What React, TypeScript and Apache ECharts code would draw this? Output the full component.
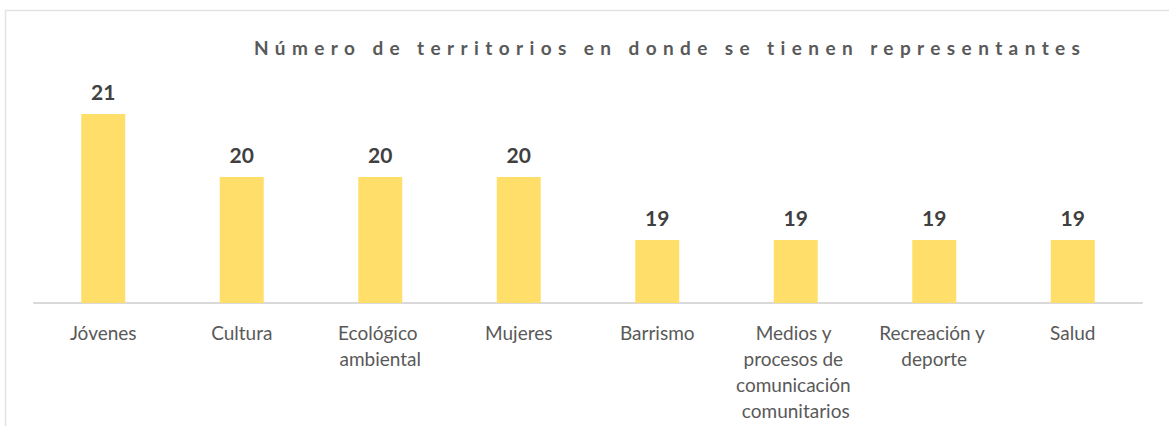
import React, { useEffect, useRef } from "react";
import * as echarts from "echarts";

const TITLE = "Número de territorios en donde se tienen representantes";
const categories = [
  "Jóvenes",
  "Cultura",
  "Ecológico ambiental",
  "Mujeres",
  "Barrismo",
  "Medios y procesos de comunicación comunitarios",
  "Recreación y deporte",
  "Salud",
];
const values = [21, 20, 20, 20, 19, 19, 19, 19];

export default function App() {
  const ref = useRef<HTMLDivElement>(null);
  useEffect(() => {
    if (!ref.current) return;
    const chart = echarts.init(ref.current, null, { renderer: "svg" });
    chart.setOption({
      animation: false,
      backgroundColor: "#ffffff",
      grid: { left: 34, right: 27, top: 51, bottom: 123 },
      graphic: [
        {
          type: "rect",
          shape: { x: 5.5, y: 10.5, width: 1200, height: 500 },
          style: { fill: "none", stroke: "#e3e3e3", lineWidth: 1.5 },
          silent: true,
        },
        {
          type: "text",
          left: 254,
          top: 38,
          style: {
            text: TITLE,
            fontFamily: "Lato, sans-serif",
            fontSize: 19,
            fontWeight: "bold",
            fill: "#595959",
          },
        },
      ],
      xAxis: {
        type: "category",
        data: categories,
        axisLine: { show: true, lineStyle: { color: "#d9d9d9", width: 2 } },
        axisTick: { show: false },
        axisLabel: {
          interval: 0,
          color: "#595959",
          fontFamily: "Lato",
          fontSize: 19,
          lineHeight: 26,
          margin: 16,
          width: 132,
          overflow: "break",
        },
      },
      yAxis: {
        type: "value",
        min: 18,
        max: 22,
        show: false,
        splitLine: { show: false },
      },
      series: [
        {
          type: "bar",
          data: values,
          barWidth: 44,
          itemStyle: { color: "#FFDF6A" },
          label: {
            show: true,
            position: "top",
            distance: 12,
            color: "#404040",
            fontFamily: "Lato",
            fontWeight: "bold",
            fontSize: 21,
          },
        },
      ],
    });
    return () => chart.dispose();
  }, []);
  return (
    <>
      <style>{`text[style*="sans-serif"]{letter-spacing:6.4px;}`}</style>
      <div
        ref={ref}
        style={{ position: "fixed", left: 0, top: 0, width: 1169, height: 426 }}
      />
    </>
  );
}
